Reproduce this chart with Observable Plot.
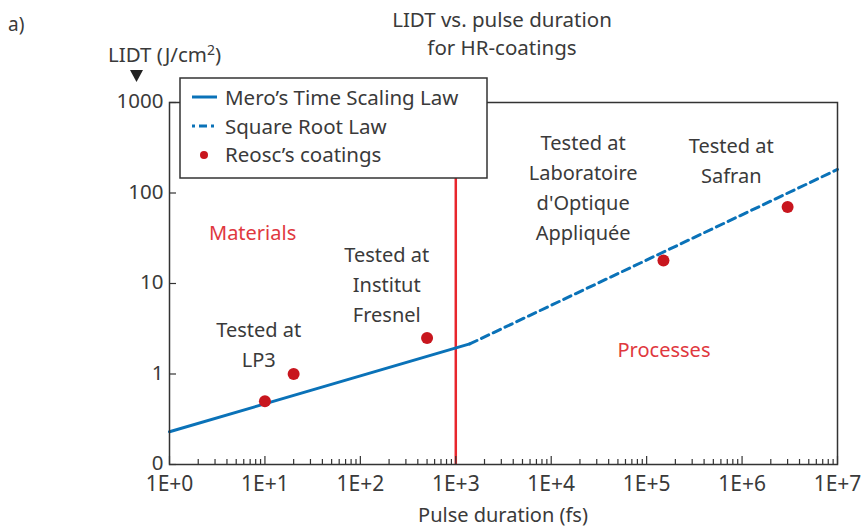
<!DOCTYPE html>
<html>
<head>
<meta charset="utf-8">
<script src="https://cdn.jsdelivr.net/npm/d3@7"></script>
<script src="https://cdn.jsdelivr.net/npm/@observablehq/plot@0.6"></script>
<style>
  html, body { margin: 0; padding: 0; background: #fff; }
  svg text { font-family: "Noto Sans", sans-serif; }
</style>
</head>
<body>
<div id="chart"></div>
<script>
// ---- data ----
const xTickValues = [1, 10, 100, 1000, 1e4, 1e5, 1e6, 1e7];
const xTickLabels = ["1E+0", "1E+1", "1E+2", "1E+3", "1E+4", "1E+5", "1E+6", "1E+7"];
const yTickValues = [0.1, 1, 10, 100, 1000];
const yTickLabels = ["0", "1", "10", "100", "1000"];

// Mero's time scaling law (solid)
const meroX = [1, 1400];
const meroY = [0.23, 2.15];
// Square root law (dashed)
const sqrtX = [1400, 1e7];
const sqrtY = [2.15, 182];
// Reosc's coatings (dots)
const coatX = [10, 20, 500, 150000, 3000000];
const coatY = [0.5, 1, 2.5, 18, 70];
// Materials / processes boundary
const boundaryX = [1000];

// Annotations
const labTexts = ["Tested at\nLP3", "Tested at\nInstitut\nFresnel", "Tested at\nLaboratoire\nd'Optique\nAppliquée", "Tested at\nSafran"];
const labX = [8.6, 189, 21600, 771000];
const labY = [2.25, 10.4, 120, 240];
const regionTexts = ["Materials", "Processes"];
const regionX = [7.43, 152000];
const regionY = [36, 1.83];

const legendNames = ["Mero’s Time Scaling Law", "Square Root Law", "Reosc’s coatings"];

// minor ticks for log x axis
const xMinor = [];
for (let e = 0; e < 7; e++) for (let m = 2; m <= 9; m++) xMinor.push(m * Math.pow(10, e));

const ink = "#3a3a3a";
const frameInk = "#333";
const blue = "#0a72b8";
const dotRed = "#c8161e";
const lineRed = "#e8262d";
const textRed = "#e0383e";

const xFmt = d => xTickLabels[xTickValues.indexOf(d)];
const yFmt = d => yTickLabels[yTickValues.indexOf(d)];

const chart = Plot.plot({
  width: 867,
  height: 528,
  marginLeft: 169,
  marginRight: 30,
  marginTop: 102,
  marginBottom: 64,
  style: { fontFamily: "Noto Sans, sans-serif", fontSize: "21px", color: ink, background: "#fff", overflow: "visible" },
  x: { type: "log", domain: [1, 1e7] },
  y: { type: "log", domain: [0.1, 1000] },
  marks: [
    Plot.ruleX(boundaryX, { x: d => d, stroke: lineRed, strokeWidth: 2.5 }),
    Plot.line(meroX, { x: meroX, y: meroY, stroke: blue, strokeWidth: 3 }),
    Plot.line(sqrtX, { x: sqrtX, y: sqrtY, stroke: blue, strokeWidth: 3, strokeDasharray: "8,5" }),
    Plot.dot(coatX, { x: coatX, y: coatY, r: 6, fill: dotRed, stroke: null }),
    Plot.text(labTexts, { x: labX, y: labY, text: labTexts, fontSize: 20, lineHeight: 1.5, fill: ink }),
    Plot.text(regionTexts, { x: regionX, y: regionY, text: regionTexts, fontSize: 20, fill: textRed }),
    Plot.frame({ stroke: frameInk, strokeWidth: 1.5 }),
    Plot.axisX({ ticks: xMinor, tickSize: -5, text: null, label: null, stroke: frameInk, strokeWidth: 1.2 }),
    Plot.axisX({ ticks: xTickValues, tickSize: -8, text: null, label: null, stroke: frameInk, strokeWidth: 1.2 }),
    Plot.axisX({ ticks: xTickValues, tickSize: 0, tickPadding: 12, label: null, tickFormat: xFmt, fontSize: 21, fill: ink }),
    Plot.axisY({ ticks: yTickValues, tickSize: -7, text: null, label: null, stroke: frameInk, strokeWidth: 1.2 }),
    Plot.axisY({ ticks: yTickValues, tickSize: 0, tickPadding: 6, dy: -1, label: null, tickFormat: yFmt, fontSize: 20.5, fill: ink })
  ]
});

document.getElementById("chart").appendChild(chart);

// ---- titles, axis labels, legend ----
const svg = d3.select(chart);
const txt = (x, y, s, opts = {}) => svg.append("text")
  .attr("x", x).attr("y", y)
  .attr("fill", opts.fill || ink)
  .attr("font-size", opts.size || 20)
  .attr("text-anchor", opts.anchor || "start")
  .text(s);

txt(8, 31, "a)", { size: 19 });
txt(502, 27, "LIDT vs. pulse duration", { anchor: "middle", size: 20.5 });
txt(502, 55, "for HR-coatings", { anchor: "middle", size: 20.5 });
txt(503, 522, "Pulse duration (fs)", { anchor: "middle", size: 20 });

const yl = svg.append("text").attr("x", 108).attr("y", 62).attr("fill", ink)
  .attr("font-size", 20.5).attr("text-anchor", "start");
yl.append("tspan").text("LIDT (J/cm");
yl.append("tspan").attr("font-size", 14).attr("dy", -7).text("2");
yl.append("tspan").attr("dy", 7).text(")");
svg.append("path").attr("d", "M130,70 L143,70 L136.5,82 Z").attr("fill", "#222");

// legend
const lg = svg.append("g");
lg.append("rect").attr("x", 180).attr("y", 78).attr("width", 307).attr("height", 100)
  .attr("fill", "#fff").attr("stroke", frameInk).attr("stroke-width", 1.5);
lg.append("line").attr("x1", 192).attr("x2", 217).attr("y1", 97).attr("y2", 97)
  .attr("stroke", blue).attr("stroke-width", 3);
lg.append("line").attr("x1", 192).attr("x2", 217).attr("y1", 126).attr("y2", 126)
  .attr("stroke", blue).attr("stroke-width", 3).attr("stroke-dasharray", "3,4,8,4");
lg.append("circle").attr("cx", 204).attr("cy", 155).attr("r", 4).attr("fill", dotRed);
legendNames.forEach((n, i) => {
  lg.append("text").attr("x", 225).attr("y", 105 + i * 28.5).attr("fill", ink)
    .attr("font-size", 20.5).attr("text-anchor", "start").text(n);
});
</script>
</body>
</html>
